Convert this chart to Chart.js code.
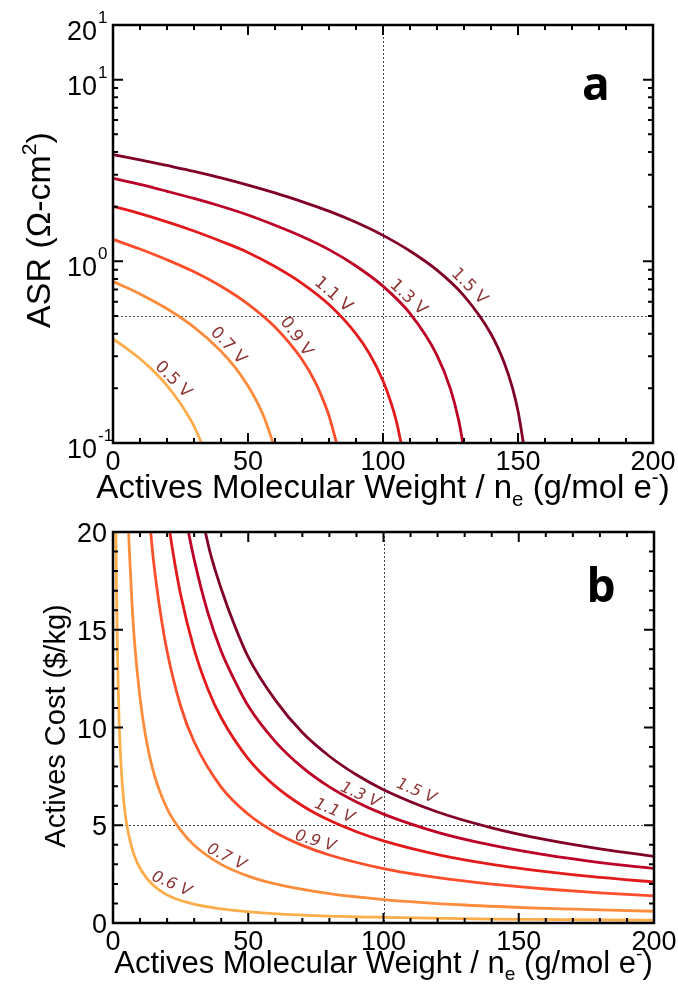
<!DOCTYPE html>
<html>
<head>
<meta charset="utf-8">
<title>ASR and actives cost vs molecular weight</title>
<script src="https://cdn.jsdelivr.net/npm/chart.js@4.4.1/dist/chart.umd.min.js"></script>
<style>
  html, body { margin: 0; padding: 0; background: #fff; }
  #wrap { position: relative; width: 678px; height: 986px; overflow: hidden; }
  #wrap canvas { position: absolute; left: 0; }
</style>
</head>
<body>
<div id="wrap">
  <canvas id="asrChart" width="678" height="515" style="top:0"></canvas>
  <canvas id="costChart" width="678" height="486" style="top:500px"></canvas>
</div>
<script>
// axis ticks
const mwTicks = [0, 50, 100, 150, 200];
const asrTicks = [0.1, 1, 10, 20];
const asrTickBase = ['10', '10', '10', '20'];
const asrTickExp = ['-1', '0', '1', '1'];
const costTicks = [0, 5, 10, 15, 20];

// curve names
const asrLabels = ['0.5 V', '0.7 V', '0.9 V', '1.1 V', '1.3 V', '1.5 V'];
const costLabels = ['0.6 V', '0.7 V', '0.9 V', '1.1 V', '1.3 V', '1.5 V'];

// panel a: ASR (ohm cm2) vs MW / ne
const asrMw05 = [0, 5, 10, 15, 20, 25, 28, 30, 32.8];
const asrVal05 = [0.374, 0.332, 0.291, 0.249, 0.207, 0.165, 0.140, 0.124, 0.100];
const asrMw07 = [0, 10, 20, 30, 40, 45, 50, 53, 56, 59.3];
const asrVal07 = [0.776, 0.662, 0.548, 0.434, 0.320, 0.263, 0.206, 0.172, 0.138, 0.100];
const asrMw09 = [0, 10, 20, 30, 40, 50, 60, 70, 75, 78, 80, 82.8];
const asrVal09 = [1.32, 1.17, 1.02, 0.876, 0.729, 0.582, 0.435, 0.288, 0.215, 0.170, 0.141, 0.100];
const asrMw11 = [0, 10, 20, 30, 40, 50, 60, 70, 80, 90, 95, 100, 103, 105, 106.7];
const asrVal11 = [2.01, 1.83, 1.65, 1.47, 1.29, 1.12, 0.936, 0.757, 0.578, 0.399, 0.310, 0.220, 0.166, 0.131, 0.100];
const asrMw13 = [0, 10, 20, 30, 40, 50, 60, 70, 80, 90, 100, 110, 120, 125, 128, 129.6];
const asrVal13 = [2.86, 2.65, 2.43, 2.22, 2.01, 1.80, 1.58, 1.37, 1.16, 0.943, 0.730, 0.517, 0.304, 0.198, 0.134, 0.100];
const asrMw15 = [0, 10, 20, 30, 40, 50, 60, 70, 80, 90, 100, 110, 120, 130, 140, 145, 148, 150, 152];
const asrVal15 = [3.87, 3.62, 3.37, 3.13, 2.88, 2.63, 2.38, 2.13, 1.89, 1.64, 1.39, 1.14, 0.894, 0.646, 0.398, 0.274, 0.200, 0.150, 0.100];

// panel b: actives cost ($/kg) vs MW / ne
const costMw06 = [1.0, 1.3, 1.7, 2.2, 3, 4, 5, 6.5, 8, 10, 13, 17, 22, 30, 40, 55, 75, 100, 140, 200];
const costVal06 = [21, 17, 13.5, 10.5, 8.0, 6.2, 5.1, 4.1, 3.4, 2.8, 2.2, 1.7, 1.3, 0.96, 0.72, 0.52, 0.38, 0.29, 0.20, 0.14];
const costMw07 = [5.5, 6, 7, 8, 10, 12, 15, 20, 25, 30, 40, 50, 60, 80, 100, 130, 160, 200];
const costVal07 = [21.0, 19.2, 16.4, 14.3, 11.5, 9.6, 7.7, 5.85, 4.75, 3.98, 3.0, 2.4, 2.0, 1.5, 1.2, 0.92, 0.75, 0.60];
const costMw09 = [13, 15, 17.5, 20, 25, 30, 40, 50, 60, 70, 80, 100, 120, 140, 160, 180, 200];
const costVal09 = [21.4, 18.5, 15.9, 13.9, 11.1, 9.27, 6.95, 5.56, 4.63, 3.97, 3.48, 2.78, 2.32, 1.99, 1.74, 1.54, 1.39];
const costMw11 = [20, 22, 25, 30, 35, 40, 50, 60, 70, 80, 90, 100, 120, 140, 160, 180, 200];
const costVal11 = [21.0, 19.1, 16.8, 14.0, 12.0, 10.5, 8.40, 7.00, 6.00, 5.25, 4.67, 4.20, 3.50, 3.00, 2.63, 2.33, 2.10];
const costMw13 = [27, 30, 35, 40, 45, 50, 60, 70, 80, 90, 100, 120, 140, 160, 180, 200];
const costVal13 = [20.6, 18.6, 15.9, 13.9, 12.4, 11.1, 9.28, 7.96, 6.96, 6.19, 5.57, 4.64, 3.98, 3.48, 3.09, 2.79];
const costMw15 = [33, 36, 40, 45, 50, 60, 70, 80, 90, 100, 120, 140, 160, 180, 200];
const costVal15 = [20.7, 18.9, 17.1, 15.2, 13.6, 11.4, 9.74, 8.53, 7.58, 6.82, 5.68, 4.87, 4.26, 3.79, 3.41];

// where the voltage tags sit (data coords) and their tilt
const asrTagMw = [22.2, 42.6, 67.8, 81.5, 109.3, 131.9];
const asrTagVal = [0.223, 0.343, 0.385, 0.655, 0.631, 0.726];
const asrTagAngle = [45, 47, 55, 41, 43, 45];
const costTagMw = [21.6, 41.9, 74.8, 81.8, 91.4, 112.1];
const costTagVal = [1.98, 3.37, 4.18, 5.72, 6.54, 6.74];
const costTagAngle = [24, 26, 17, 22, 24, 23];

const lineColors = ['#fdae4b', '#fd8d3c', '#fc4e2a', '#e31a1c', '#bd0026', '#800026'];
const tagColor = '#8e3434';
const AXIS_FONT = '"Liberation Sans", Arial, Helvetica, sans-serif';
const TAG_FONT = '"DejaVu Sans", sans-serif';

function series(xs, ys) {
  return xs.map((x, i) => ({ x: x, y: ys[i] }));
}

function makeSets(pairs) {
  return pairs.map((p, i) => ({
    data: series(p[0], p[1]),
    borderColor: lineColors[i],
    borderWidth: 2.8,
    pointRadius: 0,
    cubicInterpolationMode: 'monotone',
    clip: 0
  }));
}

// text made of runs, some of them sub- or superscripts
function drawRuns(ctx, runs, size, cx, cy, rot) {
  ctx.save();
  ctx.translate(cx, cy);
  ctx.rotate(rot || 0);
  ctx.textBaseline = 'alphabetic';
  ctx.textAlign = 'left';
  let total = 0;
  const parts = runs.map(r => {
    const s = (r.sub || r.sup) ? size * 0.62 : size;
    ctx.font = s + 'px ' + AXIS_FONT;
    const w = ctx.measureText(r.t).width;
    total += w;
    return { t: r.t, sub: r.sub, sup: r.sup, s: s, w: w };
  });
  let x = -total / 2;
  parts.forEach(p => {
    ctx.font = p.s + 'px ' + AXIS_FONT;
    const dy = p.sub ? size * 0.24 : (p.sup ? -size * 0.42 : 0);
    ctx.fillText(p.t, x, dy);
    x += p.w;
  });
  ctx.restore();
}

const decor = {
  id: 'decor',
  beforeDatasetsDraw(chart, args, o) {
    const { ctx, chartArea: a, scales: { x, y } } = chart;
    ctx.save();
    ctx.strokeStyle = '#444';
    ctx.lineWidth = 1;
    ctx.setLineDash([2, 2]);
    const vx = Math.round(x.getPixelForValue(o.refX)) + 0.5;
    const hy = Math.round(y.getPixelForValue(o.refY)) + 0.5;
    ctx.beginPath();
    ctx.moveTo(vx, a.top); ctx.lineTo(vx, a.bottom);
    ctx.moveTo(a.left, hy); ctx.lineTo(a.right, hy);
    ctx.stroke();
    ctx.restore();
  },
  afterDatasetsDraw(chart, args, o) {
    const { ctx, chartArea: a, scales: { x, y } } = chart;
    ctx.save();

    // voltage tags along the curves
    ctx.fillStyle = tagColor;
    ctx.font = o.tagFont;
    ctx.textAlign = 'center';
    ctx.textBaseline = 'middle';
    o.tags.forEach((t, i) => {
      ctx.save();
      ctx.translate(x.getPixelForValue(o.tagX[i]), y.getPixelForValue(o.tagY[i]));
      ctx.rotate(o.tagAngle[i] * Math.PI / 180);
      ctx.fillText(t, 0, 0);
      ctx.restore();
    });

    // frame
    ctx.strokeStyle = '#000';
    ctx.lineWidth = 2.5;
    ctx.strokeRect(a.left, a.top, a.right - a.left, a.bottom - a.top);

    // inward ticks on all four sides
    ctx.lineWidth = 2;
    ctx.beginPath();
    for (let v = 0; v <= 200; v += 10) {
      const px = x.getPixelForValue(v);
      const len = v % 50 === 0 ? 10 : 5;
      ctx.moveTo(px, a.bottom); ctx.lineTo(px, a.bottom - len);
      ctx.moveTo(px, a.top); ctx.lineTo(px, a.top + len);
    }
    o.yTicks.forEach(t => {
      const py = y.getPixelForValue(t.v);
      const len = t.major ? 10 : 5;
      ctx.moveTo(a.left, py); ctx.lineTo(a.left + len, py);
      ctx.moveTo(a.right, py); ctx.lineTo(a.right - len, py);
    });
    ctx.stroke();

    // tick labels
    ctx.fillStyle = '#000';
    ctx.textBaseline = 'alphabetic';
    ctx.textAlign = 'center';
    ctx.font = '27px ' + AXIS_FONT;
    mwTicks.forEach(v => ctx.fillText(String(v), x.getPixelForValue(v), a.bottom + 27));
    o.drawYLabels(ctx, a, y);

    // axis titles
    drawRuns(ctx, o.xTitle, o.xTitleSize, (a.left + a.right) / 2, a.bottom + o.xTitleGap);
    drawRuns(ctx, o.yTitle, o.yTitleSize, o.yTitleX, o.yTitleY, -Math.PI / 2);

    // panel letter
    ctx.font = 'bold 46px "Open Sans", "DejaVu Sans", sans-serif';
    ctx.textAlign = 'center';
    ctx.fillText(o.letter, o.letterX, o.letterY);
    ctx.restore();
  }
};

const xTitleRuns = [
  { t: 'Actives Molecular Weight / n' }, { t: 'e', sub: true },
  { t: ' (g/mol e' }, { t: '-', sup: true }, { t: ')' }
];

function baseOptions(yType, yMin, yMax, yWidth, xHeight, pad, plugin) {
  return {
    responsive: false,
    animation: false,
    events: [],
    layout: { padding: pad },
    plugins: { legend: { display: false }, tooltip: { enabled: false }, decor: plugin },
    scales: {
      x: {
        type: 'linear', min: 0, max: 200,
        ticks: { display: false }, grid: { display: false }, border: { display: false },
        afterFit: s => { s.height = xHeight; }
      },
      y: {
        type: yType, min: yMin, max: yMax,
        ticks: { display: false }, grid: { display: false }, border: { display: false },
        afterFit: s => { s.width = yWidth; }
      }
    }
  };
}

// log minor ticks for panel a
const asrYTicks = [];
[0.1, 1, 10].forEach(d => {
  for (let m = 1; m <= 9; m++) {
    if (m * d <= 20) asrYTicks.push({ v: m * d, major: m === 1 });
  }
});
const costYTicks = [];
for (let v = 0; v <= 20; v++) costYTicks.push({ v: v, major: v % 5 === 0 });

new Chart(document.getElementById('asrChart'), {
  type: 'line',
  data: {
    datasets: makeSets([
      [asrMw05, asrVal05], [asrMw07, asrVal07], [asrMw09, asrVal09],
      [asrMw11, asrVal11], [asrMw13, asrVal13], [asrMw15, asrVal15]
    ])
  },
  options: baseOptions('logarithmic', 0.1, 20, 113, 72, { top: 25, right: 25, left: 0, bottom: 0 }, {
    refX: 100, refY: 0.5,
    tags: asrLabels, tagX: asrTagMw, tagY: asrTagVal, tagAngle: asrTagAngle,
    tagFont: '17px ' + TAG_FONT,
    yTicks: asrYTicks,
    drawYLabels: (ctx, a, y) => {
      asrTicks.forEach((v, i) => {
        const py = y.getPixelForValue(v);
        ctx.font = '27px ' + AXIS_FONT;
        ctx.textAlign = 'right';
        ctx.fillText(asrTickBase[i], 97, py + 15);
        ctx.font = '17px ' + AXIS_FONT;
        ctx.textAlign = 'left';
        ctx.fillText(asrTickExp[i], 98, py - 2);
      });
    },
    xTitle: xTitleRuns, xTitleSize: 33, xTitleGap: 55,
    yTitle: [{ t: 'ASR (Ω-cm' }, { t: '2', sup: true }, { t: ')' }], yTitleSize: 34,
    yTitleX: 50, yTitleY: 230,
    letter: 'a', letterX: 596, letterY: 100
  }),
  plugins: [decor]
});

new Chart(document.getElementById('costChart'), {
  type: 'line',
  data: {
    datasets: makeSets([
      [costMw06, costVal06], [costMw07, costVal07], [costMw09, costVal09],
      [costMw11, costVal11], [costMw13, costVal13], [costMw15, costVal15]
    ])
  },
  options: baseOptions('linear', 0, 20, 113, 63, { top: 32, right: 24, left: 0, bottom: 0 }, {
    refX: 100, refY: 5,
    tags: costLabels, tagX: costTagMw, tagY: costTagVal, tagAngle: costTagAngle,
    tagFont: 'italic 16px ' + TAG_FONT,
    yTicks: costYTicks,
    drawYLabels: (ctx, a, y) => {
      ctx.font = '27px ' + AXIS_FONT;
      ctx.textAlign = 'right';
      costTicks.forEach(v => ctx.fillText(String(v), 107, y.getPixelForValue(v) + 10));
    },
    xTitle: xTitleRuns, xTitleSize: 31, xTitleGap: 50,
    yTitle: [{ t: 'Actives Cost ($/kg)' }], yTitleSize: 29,
    yTitleX: 65, yTitleY: 226,
    letter: 'b', letterX: 601, letterY: 102
  }),
  plugins: [decor]
});
</script>
</body>
</html>
